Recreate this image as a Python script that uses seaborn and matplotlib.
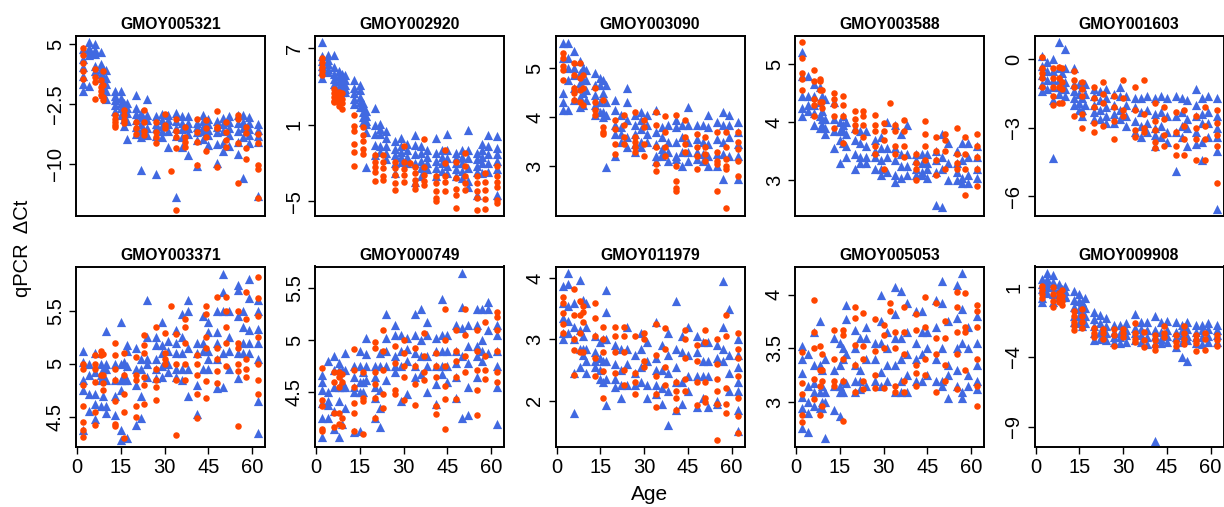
import seaborn as sns
import pandas as pd
import matplotlib
matplotlib.use("Agg")
import matplotlib.pyplot as plt

gene_names = ["GMOY005321", "GMOY002920", "GMOY003090", "GMOY003588", "GMOY001603",
              "GMOY003371", "GMOY000749", "GMOY011979", "GMOY005053", "GMOY009908"]

age_ticks = [0, 15, 30, 45, 60]
y_ticks = [[5, -2.5, -10], [7, 1, -5], [5, 4, 3], [5, 4, 3], [0, -3, -6],
           [5.5, 5, 4.5], [5.5, 5, 4.5], [4, 3, 2], [4, 3.5, 3], [1, -4, -9]]
y_tick_labels = [["5", "\u22122.5", "\u221210"], ["7", "1", "\u22125"], ["5", "4", "3"], ["5", "4", "3"],
                 ["0", "\u22123", "\u22126"], ["5.5", "5", "4.5"], ["5.5", "5", "4.5"], ["4", "3", "2"],
                 ["4", "3.5", "3"], ["1", "\u22124", "\u22129"]]

# ages of the sample groups
blue_ages = [2, 4, 6, 8, 9, 10, 13, 15, 16, 17, 20, 22, 24, 27, 29, 31, 34, 36, 38, 41,
             43, 45, 48, 50, 52, 55, 57, 59, 62]
orange_ages = [2, 6, 8, 9, 13, 16, 20, 23, 27, 30, 32, 34, 37, 41, 44, 48, 51, 55, 58, 62]

# values, one inner list per age
p1_blue = [[4.4, 3.2, 2.2, 1, 0, -0.9], [5.3, 4.5, 4, 3.6, -0.2], [5, 4.3, 3.8, 2.3, 1.6], [4, 2.5, 1.9, 1.3, 0.8],
           [1.9, 1.2, 0.5, -0.3, -1.2], [1.8, 0.8, 0, -0.8, -1.8], [-0.8, -1.5, -2, -2.6, -3.3], [-0.8, -1.7, -2.4, -3, -3.8],
           [-2.3, -3, -3.6, -4.4, -5.2], [-2.4, -3, -3.6, -4.6, -6.8], [-1.4, -3, -3.7, -4.5, -5.4, -6.2],
           [-3.6, -4.1, -5, -5.8, -6.6, -10.8], [-1.9, -3.8, -4.5, -5.5, -6.4], [-4, -5, -5.5, -6.5, -11.2],
           [-3.7, -4.5, -5.2, -5.9, -6.6], [-3.9, -4.5, -5, -5.8, -7.8], [-3.6, -4.6, -5.5, -6.5, -14.1],
           [-4, -4.8, -5.6, -6.6, -7.8], [-4, -4.8, -5.5, -6.2, -8.9], [-4.8, -5.4, -6, -7, -10.3],
           [-3.8, -4.6, -5.3, -5.8, -6.8], [-4.4, -5, -5.7, -6.4, -7.6], [-4.6, -5.3, -6, -7.5, -9.9],
           [-4.2, -5, -5.8, -7.4, -8.3], [-4, -4.7, -5.5, -6.3, -7.7], [-3.8, -4.8, -5.8, -7.2, -8.7],
           [-3.9, -4.7, -5.5, -6.6, -11.8], [-4.1, -4.8, -5.6, -6.3, -7.3], [-5, -5.7, -6.5, -7.2, -14]]
p1_orange = [[4.5, 3.6, 2.6, 1.6, 0.6], [1.9, 0.9, 0.3, -1.9], [-0.9, -1.4, 0.5, -0.4], [1.6, -0.1, -1.6, -2],
             [-3.9, -4.3, -4.7, -5.1, -5.3], [-3.2, -3.9, -4.5, -4.9], [-4.7, -5.5, -6.2], [-3.2, -4.7, -5.8, -6.4],
             [-4.7, -6, -6.6, -7.3], [-3.7, -5.1, -5.5], [-10.9], [-4.3, -5.8, -6.6, -8, -15.7], [-5.3, -6.6, -7.2, -7.8],
             [-4.4, -6, -7.2, -10.1], [-4.5, -5.5, -6.6, -8.3], [-3.4, -5.3, -5.5, -10.4], [-4.7, -6, -7, -7.8],
             [-3.9, -4.3, -7.4, -12.4], [-5.3, -6.1, -8, -9.3], [-6.2, -7.4, -10.1, -10.6, -14.2]]

p2_blue = [[7.5, 6.4, 6, 5.6, 5.2, 4.7], [6.5, 6.1, 5.8, 5.4, 5.1], [6.5, 5.5, 5, 4.6, 4.2], [5.2, 4.8, 4.4, 4, 3.7],
           [5, 4.6, 4.2, 3.9, 3.6], [4.9, 4.5, 4.1, 3.8, 3.6], [4.5, 3.9, 3.5, 3, 2.6], [4.1, 3.7, 3.2, 2.8, 2.4],
           [2.7, 2.4, 2, 1.6, 1.2], [2.1, 1.7, 1.3, 1.1, 0.4, -2.3], [2.3, 1, 0.3, -0.6, -1.4], [1.1, 0.7, 0.3, -0.7, -1.1],
           [0.5, 0, -0.7, -1.2, -1.7], [-0.3, -0.9, -1.4, -2, -2.8], [0, -0.7, -1.1, -1.5, -1.9], [-0.5, -1, -1.5, -2],
           [0.2, -0.6, -1.3, -2, -3.5], [-0.7, -1.2, -1.8, -2.4, -3], [-1, -1.5, -2, -2.5], [0, -1.2, -1.8, -2.4, -3],
           [-1, -1.5, -2, -2.6], [0.3, -1, -1.6, -2.2, -2.8], [-1.2, -1.6, -2, -2.5, -3], [-1, -1.5, -2, -2.6, -3.2],
           [0.6, -1, -1.6, -2.4, -3.4, -3.9], [-1.2, -1.7, -2.2, -2.7, -4.5], [-0.5, -1, -1.5, -2, -2.8],
           [0.2, -0.7, -1.3, -2, -2.7], [0.1, -0.8, -1.3, -1.8, -2.5, -4.5]]
p2_orange = [[6.2, 5.9, 5.5, 5.2, 4.9], [3.8, 3.5, 3.2, 2.9, 2.8], [3.6, 3.3, 3, 2.7, 2.5], [3.5, 3, 2.7, 2.2],
             [1.8, 0.9, 0.5, -0.5, -1.1, -2.2], [0.8, 0.2, -0.3, -0.9, -1.3], [-1.4, -1.9, -2.3, -2.7, -3.4],
             [-1.4, -1.9, -2.4, -3, -3.3], [-1.9, -2.4, -2.9, -3.6, -4.1], [-0.7, -1.9, -2.5, -2.9, -3.5], [-2],
             [-2.3, -2.8, -3.3, -3.7, -4], [-0.1, -2.3, -2.9, -3.4, -3.7], [-3, -3.6, -4.2, -4.7, -5],
             [-1, -2, -3, -3.5, -4.2], [-1.9, -3.2, -4, -4.5, -5.5], [-1.2, -2.2, -3, -3.6, -4.1],
             [-3, -3.6, -4.2, -4.7, -5.7], [-2.8, -3.5, -4.1, -4.8, -5.6], [-2.2, -3, -3.5, -3.9, -4.9, -5.1]]

p3_blue = [[5.5, 5.2, 4.5, 4.3, 4.15], [5.5, 5.2, 5, 4.75, 4.15], [5.35, 5, 4.85, 4.6, 4.35], [5.15, 4.9, 4.7, 4.4, 4.2],
           [5, 4.75, 4.5, 4.25], [4.95, 4.75, 4.55, 4.35], [4.9, 4.65, 4.45, 4.25, 4.05], [4.8, 4.65, 4.3, 4.1],
           [4.75, 4.5, 4.1, 4], [4.65, 4.3, 4.05, 2.98], [4.35, 4.15, 3.85, 3.65, 3.2], [4.05, 3.8, 3.65, 3.5],
           [4.6, 4.3, 3.95, 3.6, 3.4], [4.05, 3.85, 3.65, 3.45, 3.3], [4.1, 3.95, 3.75, 3.5, 3.4], [4.05, 3.85, 3.65, 3.5],
           [4.15, 3.7, 3.45, 3.2, 3.1], [3.8, 3.6, 3.35, 3.25, 3.2], [3.85, 3.5, 3.3, 3.1], [3.95, 3.8, 3.5, 3.2, 3.15],
           [3.85, 3.6, 3.3, 3], [4.2, 3.85, 3.5, 3.3, 3.1], [3.85, 3.55, 3.3, 3.15], [3.85, 3.5, 3.25, 3.1],
           [4.05, 3.8, 3.45, 3.2, 3], [3.9, 3.55, 3.25, 3], [4.1, 3.85, 3.5, 3.25, 2.75], [4.05, 3.85, 3.6, 3.2],
           [3.9, 3.7, 3.45, 3.2, 2.75]]
p3_orange = [[5.3, 5.2, 5.05, 4.95, 4.75], [5.1, 4.85, 4.6, 4.5, 4.35], [5.1, 4.8, 4.55, 4.3], [4.85, 4.6, 4.25],
             [4.6, 4.3, 4.15, 4.05], [4.35, 3.8, 3.7, 3.65], [3.95, 3.75, 3.45, 3.25], [4.05, 3.85, 3.6, 3.45],
             [4.1, 3.6, 3.5, 3.4, 3.3], [3.95, 3.8, 3.45, 3.2], [], [4.1, 3.85, 3.4, 3.05, 2.9], [4.03, 3.7, 3.4, 3.2],
             [4.05, 3, 2.7, 2.55, 2.5], [3.95, 3.6, 3.45, 3.3], [3.65, 3.4, 3.2, 2.95], [3.6, 3.4, 3.25, 3.1],
             [3.7, 3.3, 3.1, 3.05, 2.5], [3.7, 3.4, 3.15, 3, 2.95, 2.15], [3.7, 3.5, 3.35, 3.1, 2.8]]

p4_blue = [[5.2, 4.8, 4.45, 4.25, 4.1], [4.8, 4.45, 4.3, 4.2], [4.65, 4.45, 4.3, 4.15, 3.95], [4.6, 4.35, 4.1, 3.9],
           [4.45, 4.2, 4.05, 3.95], [4.4, 4.05, 3.9, 3.8], [4.35, 4.05, 3.85, 3.55], [4, 3.85, 3.7, 3.3],
           [4.1, 3.95, 3.85, 3.65], [4, 3.8, 3.6, 3.4], [3.9, 3.7, 3.45, 3.2], [3.85, 3.65, 3.4, 3.3], [3.85, 3.6, 3.4, 3.3],
           [3.7, 3.5, 3.4, 3.2], [3.75, 3.55, 3.35, 3.2, 3.1], [4, 3.55, 3.4, 3.15], [3.95, 3.55, 3.35, 3.1, 2.98],
           [3.8, 3.45, 3.25, 3.05], [3.95, 3.45, 3.25, 3.1], [3.45, 3.35, 3.2, 3.1], [3.45, 3.3, 3.15, 3.1],
           [3.45, 3.3, 3.2, 3.05], [3.5, 3.35, 3.15, 2.58], [3.8, 3.4, 3.2, 2.55], [3.65, 3.3, 3], [3.5, 3.3, 3.15, 3],
           [3.65, 3.35, 3.05, 2.95], [3.65, 3.4, 3.1, 2.95], [3.6, 3.4, 3.2, 3.05]]
p4_orange = [[5.37, 5.1, 4.85, 4.75, 4.55], [4.9, 4.7, 4.4, 4.3, 4.1], [4.75, 4.7, 4.55, 4.35], [4.55, 4.35, 4.25],
             [4.5, 4.4, 4.3, 4.1, 3.9], [4.45, 4.3, 4.1, 3.65], [4.2, 4.05, 3.95, 3.85], [4.2, 4.1, 3.95, 3.75],
             [4.13, 3.95, 3.85, 3.6, 3.45], [3.98, 3.85, 3.7, 3.2], [4.33], [3.95, 3.85, 3.6, 3.45], [4.03, 3.85, 3.6, 3.4],
             [3.45, 3.3, 3.2, 3], [4.02, 3.8, 3.6, 3.35], [3.75, 3.5, 3.35, 3.1], [3.8, 3.7, 3.5, 3.2], [3.9, 3.45, 3.3, 3.2],
             [3.75, 3.45, 3.2, 2.75], [3.8, 3.6, 3.4, 3.2, 2.9]]

p5_blue = [[0.15, -0.3, -0.7, -1.1, -1.4], [-0.1, -0.5, -0.9, -1.3], [0, -0.5, -0.9, -1.2, -1.8, -4.3],
           [0.75, -0.4, -0.9, -1.2, -1.5], [-0.6, -1, -1.3], [0.45, -0.4, -1, -1.3, -1.6], [-0.4, -1.1, -1.4, -1.7, -2],
           [-1.1, -1.5, -1.9, -2.2], [-1.2, -1.7, -2.2, -2.5], [-1.1, -1.5, -2], [-1.3, -1.6, -2, -2.3, -2.6],
           [-1.4, -1.8, -2.2, -2.6], [-1.3, -1.7, -2.1, -2.5, -2.8], [-1.5, -2, -2.4, -2.8], [-1.2, -1.6, -2.2, -2.6],
           [-1.6, -2, -2.5, -2.9], [-1.7, -2.1, -2.7, -3.2], [-1.7, -2.3, -2.9, -3.4], [-1.6, -2.2, -2.8, -3.2],
           [-1.7, -2.4, -3, -3.3, -3.8], [-1.6, -2.3, -2.9, -3.4], [-1.7, -2.5, -3.2, -3.6], [-1.6, -2.5, -3.2, -4.9],
           [-1.7, -2.3, -2.9, -3.4], [-1.8, -2.6, -3, -3.8], [-1.3, -2, -2.5, -3.2, -3.7], [-1.7, -2.4, -2.8, -3.6, -4.4],
           [-1.6, -2.3, -2.8, -3.4], [-1.7, -2.5, -3, -3.4, -4, -6.55]]
p5_orange = [[0.1, -0.4, -0.6, -0.8, -1.2], [-0.4, -0.8, -1.2, -1.6, -2], [-0.35, -0.8, -1.2, -1.9], [-0.4, -1, -1.3, -1.9],
             [-0.5, -0.9, -1.2, -2.5], [-1, -1.3, -1.6, -2.4, -3], [-1.2, -1.7, -2.1, -2.8, -3.2], [-1, -1.5, -1.9, -2.9],
             [-1.6, -2.1, -2.7, -3.5], [-0.9, -1.7, -2.2, -2.5], [], [-1.2, -2.2, -3.1, -3.4], [-0.9, -2.4, -3, -3.2],
             [-1.9, -2.7, -3.1, -3.6, -3.9], [-2.1, -2.6, -3.3, -3.8], [-2.3, -3.2, -3.8, -4.2], [-2.2, -2.9, -3.5, -4.2],
             [-2.5, -3, -3.5, -4.4], [-2.1, -2.9, -3.5, -4.4], [-2.2, -2.8, -3.3, -3.8, -5.4]]

p6_blue = [[5.12, 5.02, 4.85, 4.75, 4.38], [5, 4.9, 4.72, 4.56], [5.1, 4.92, 4.72, 4.62, 4.48], [5, 4.9, 4.85, 4.6],
           [4.95, 4.88, 4.7], [5.31, 5, 4.95, 4.85, 4.6, 4.54], [5, 4.85, 4.7, 4.52], [5.4, 5, 4.85, 4.75, 4.38, 4.28],
           [5.02, 4.9, 4.85], [5.18, 5.12, 4.98, 4.85, 4.3], [5.15, 4.95, 4.8, 4.42], [5.05, 4.95, 4.7, 4.49],
           [5.6, 5.25, 5.05, 5, 4.88], [5.25, 5.18, 5.05, 4.95, 4.87], [5.4, 5.18, 5.1, 4.98, 4.88], [5.22, 5.12, 5, 4.92],
           [5.32, 5.2, 5.1, 4.95, 4.88], [5.47, 5.25, 5.1, 4.95, 4.85], [5.6, 5.5, 5.15, 4.95, 4.7], [5.2, 5.1, 4.8, 4.53],
           [5.45, 5.2, 5.12, 4.95], [5.4, 5.3, 5.12, 5.05, 4.95], [5.5, 5.3, 5.2, 5.05, 4.77], [5.85, 5.68, 5.5, 5.1, 4.78],
           [5.5, 5.25, 5.12, 4.95], [5.75, 5.7, 5.45, 5.1, 4.87], [5.5, 5.35, 5.2, 5.1], [5.8, 5.62, 5.32, 5.2, 5.1],
           [5.6, 5.5, 5.33, 5.2, 5.05, 4.65, 4.35]]
p6_orange = [[5, 4.95, 4.8, 4.6, 4.45, 4.38, 4.31], [5.08, 5, 4.95, 4.83, 4.55, 4.42], [5.12, 5.08, 4.9], [5.09, 4.9, 4.82, 4.75],
             [5.2, 5.08, 4.95, 4.85, 4.65, 4.43, 4.41], [5.1, 4.9, 4.72, 4.55, 4.3], [5.07, 4.9, 4.85, 4.6, 4.5],
             [5.27, 5.18, 5.1, 4.88, 4.8, 4.62], [5.35, 4.95, 4.85, 4.78, 4.66], [5.29, 5.1, 5.05, 5], [5.55],
             [5.28, 5, 4.85, 4.33], [5.42, 5.35, 5.2, 5, 4.85], [5.08, 5, 4.9, 4.72, 4.49], [5.55, 5.47, 5.25, 5.15, 4.84, 4.68],
             [5.63, 5.15, 5.05, 4.93, 4.82], [5.63, 5.5, 5.35, 5.2, 4.98], [5.5, 5.2, 5.15, 5, 4.93, 4.41],
             [5.68, 5.42, 5.05, 4.95, 4.88], [5.82, 5.62, 5.45, 5.25, 5, 4.85, 4.72]]

p7_blue = [[4.67, 4.6, 4.52, 4.4, 4.25, 4.07], [4.8, 4.5, 4.42, 4.38, 4.25], [4.85, 4.72, 4.55, 4.32, 4.15],
           [4.78, 4.72, 4.55, 4.42, 4.07], [4.72, 4.6, 4.55, 4.2], [4.88, 4.72, 4.55, 4.35], [4.75, 4.65, 4.55, 4.5, 4.12],
           [4.9, 4.75, 4.6, 4.5, 4.13], [4.7, 4.6, 4.5], [5.02, 4.87, 4.75, 4.62], [4.75, 4.65, 4.55, 4.45, 4.25],
           [4.88, 4.75, 4.52, 4.35, 4.17], [5.25, 5.02, 4.9, 4.75, 4.62], [5.15, 5.05, 4.85, 4.75, 4.7], [5.05, 4.9, 4.75, 4.42],
           [5.02, 4.92, 4.8, 4.48], [5.25, 5.05, 4.88, 4.75, 4.65], [5.3, 5, 4.85, 4.68], [5.18, 5.05, 4.85, 4.75, 4.5],
           [5.02, 4.9, 4.75, 4.58, 4.39], [5.4, 5.05, 4.9, 4.75, 4.68], [5.05, 4.9, 4.75, 4.6], [5.15, 4.9, 4.78, 4.65, 4.45],
           [5.65, 5.32, 5.12, 4.85, 4.25], [5.15, 4.95, 4.78, 4.55, 4.28], [5.3, 5.15, 4.95, 4.85, 4.65], [5.3, 5, 4.9, 4.8],
           [5.37, 5.3, 5.1, 4.88], [5.15, 5.05, 4.9, 4.75, 4.55, 4.2]]
p7_orange = [[4.73, 4.43, 4.37, 4.15, 4.13], [4.7, 4.6, 4.3, 4.17], [4.7, 4.65, 4.55, 4.3, 4.2], [4.68, 4.6, 4.25, 4.18],
             [4.92, 4.72, 4.55, 4.4, 4.3, 4.13], [4.7, 4.45, 4.42, 4.1], [4.98, 4.93, 4.7, 4.58, 4.45, 4.25],
             [5.1, 4.9, 4.72, 4.48, 4.35], [4.95, 4.78, 4.52, 4.48], [5, 4.88, 4.75, 4.65, 4.43], [], [4.93, 4.75, 4.58, 4.38],
             [5.07, 4.85, 4.7, 4.62], [4.88, 4.75, 4.65, 4.37, 4.29], [5.3, 5, 4.75, 4.56, 4.44, 4.15], [5.1, 4.9, 4.8, 4.65, 4.44],
             [5.3, 5.05, 4.85, 4.7], [5.1, 4.9, 4.72, 4.52, 4.28], [5.18, 4.85, 4.72, 4.63], [5.27, 5.22, 5.1, 4.9, 4.7, 4.6]]

p8_blue = [[3.87, 3.6, 3.35, 3.1, 3], [4.08, 3.9, 3.55, 3.3, 3.1], [3.6, 3.2, 3, 2.45, 1.8], [3.97, 3.15, 2.85, 2.55],
           [3.65, 3.05, 2.85, 2.75], [3.6, 3.2, 2.85, 2.65, 2.45], [3.05, 2.8, 2.65, 2.55], [2.95, 2.7, 2.5, 2.35],
           [3, 2.65, 2.3], [3.8, 3.45, 3, 2.65, 2.35, 1.92], [2.9, 2.6, 2.35, 2.22], [2.85, 2.5, 2.25, 2.05], [3.2, 2.85, 2.6, 2.25],
           [2.75, 2.45, 2.25], [3.1, 2.85, 2.55, 2.3], [2.95, 2.65, 2.25, 2.05], [3.28, 2.7, 2.5, 2.25, 2.1], [2.9, 2.5, 2.2, 1.95],
           [3.1, 2.75, 2.45, 2.15, 1.6], [3.63, 2.85, 2.55, 2.3, 1.85], [3.05, 2.8, 2.3, 1.95], [3.2, 2.75, 2.4, 2.15],
           [3.05, 2.8, 2.4, 1.9], [2.95, 2.65, 2.4, 2.05], [2.95, 2.65, 2.4, 1.9], [2.9, 2.7, 2, 1.95], [3.95, 3.2, 2.85, 2.65],
           [3.5, 2.75, 2.45, 2.15], [3, 2.75, 2.55, 2.3, 2.15, 1.85, 1.5]]
p8_orange = [[3.7, 3.6, 3.43, 3.25, 3.1], [3.83, 3.4, 3, 2.83, 2.42], [3.63, 3.4, 3.1, 2.8], [3.55, 3.45, 3.28, 2.8],
             [3.6, 3.35, 3.05, 2.7, 2.4], [3.2, 3, 2.8, 2.48, 2.05], [3.2, 3.05, 2.8, 2.45], [3.2, 3.05, 2.8, 2.5, 2.25],
             [3.05, 2.45, 2.3, 2.1], [3.1, 3, 2.65, 2.55], [], [3.25, 2.75, 2.4, 2.1, 1.9], [3.18, 2.85, 2.55, 2.25],
             [2.3, 2.15, 2.05, 1.85], [3.15, 3, 2.7, 2.35, 2.15], [2.9, 2.65, 2.3, 1.92], [3.15, 2.95, 2.3, 2.05, 1.97],
             [3, 2.6, 2.35, 2.15, 1.95, 1.35], [3.4, 3.05, 2.2, 1.95, 1.8], [3.1, 2.85, 2.7, 2.4, 2.05, 1.75, 1.47]]

p9_blue = [[3.52, 3.4, 3.27, 3.05, 2.95, 2.76], [3.45, 3.15, 3, 2.9, 2.72], [3.65, 3.35, 3.18, 3.1, 2.97], [3.75, 3.35, 3.1, 2.95],
           [3.3, 3.15, 3, 2.95], [3.4, 3.1, 3, 2.67], [3.6, 3.3, 3.15, 2.93], [3.55, 3.35, 3.15, 3.1, 2.87], [3.5, 3.4, 3.2, 3.1],
           [3.9, 3.77, 3.45, 3.18], [3.67, 3.5, 3.35, 3.2, 3.1], [3.6, 3.3, 3.2, 3.12], [3.7, 3.6, 3.4, 3.15], [3.55, 3.4, 3.2],
           [4, 3.75, 3.55, 3.28, 3.15], [3.65, 3.5, 3.35, 3.2], [4.07, 3.82, 3.6, 3.35, 3.1], [4.03, 3.6, 3.4, 3.2, 3.1],
           [3.92, 3.65, 3.45, 3.25, 3.1], [3.85, 3.55, 3.4, 3.2], [3.85, 3.65, 3.45, 3.2], [3.65, 3.5, 3.25], [3.95, 3.7, 3.4, 3.2],
           [4.13, 3.92, 3.5, 3.2, 3.15], [3.75, 3.25, 3.35, 3.04], [4.09, 3.78, 3.5, 3.3, 3.15], [4.2, 3.87, 3.55, 3.1, 3.04],
           [3.7, 3.5, 3.25, 3.15], [3.8, 3.55, 3.35, 3.2, 3.12]]
p9_orange = [[3.47, 3.18, 3.08, 2.88, 2.82], [3.95, 3.65, 3.5, 3.22, 3.03], [3.52, 3.3, 3.15, 2.88], [3.45, 3.3, 3.2, 2.97],
             [3.67, 3.4, 3.2, 3.15], [3.67, 3.62, 3.4, 3.2, 2.83], [3.88, 3.78, 3.53, 3.35, 3.1], [3.83, 3.52, 3.4, 3.2, 3.12],
             [3.77, 3.48, 3.25, 3.13], [3.72, 3.62, 3.5, 3.13], [3.92, 3.85], [3.65, 3.5, 3.15, 3.1], [3.88, 3.65, 3.45, 3.2, 3.1],
             [3.82, 3.67, 3.35, 3.27, 3.15], [3.98, 3.7, 3.4, 3.25], [3.92, 3.6, 3.45, 3.1], [3.75, 3.6, 3.35, 3.2],
             [4.02, 3.88, 3.65, 3.45, 3.12], [4.01, 3.7, 3.65, 3.3], [3.9, 3.85, 3.7, 3.4, 3.15, 2.97]]

p10_blue = [[1.6, 1.2, 0.9, 0.2, -0.1], [2, 1.6, 1.3, 1, 0.6], [1.9, 1.4, 1, 0.5, -0.1], [1.2, 0.9, 0.6, 0.3], [0.9, 0.6, 0.3],
            [1.1, 0.7, 0.4, 0.3], [0.7, 0.1, -0.4, -1.1, -1.5], [0.5, 0, -0.6, -1.1, -1.6], [-0.1, -0.7, -1.2, -1.8],
            [0.2, -0.5, -1.1, -1.6], [-0.8, -1.3, -1.8, -2.3, -2.8], [-1, -1.6, -2.2, -2.7], [-1.2, -1.8, -2.3, -2.8],
            [-1.7, -2.2, -2.6, -2.9], [-1.7, -2.3, -2.6, -3], [-1.6, -2.1, -2.4, -2.9], [-0.9, -1.9, -2.3, -2.8],
            [-1.5, -2, -2.4, -2.9], [-1.5, -2.1, -2.6, -3.1], [-1.1, -2.1, -2.5, -3, -10], [-1.5, -2.2, -2.7, -3],
            [-1.4, -2.1, -2.5, -2.9], [-1.5, -2.2, -2.6, -3.3], [-1.7, -2.1, -2.4, -2.9, -4], [-1.5, -2, -2.5, -2.8, -4.3],
            [-1.7, -2.2, -2.6, -3], [-1.7, -2.1, -2.6, -3.1], [-1.6, -2, -2.5, -2.9], [-1.7, -2.1, -2.4, -2.9]]
p10_orange = [[1.1, 0.8, 0.5, 0.2], [1, 0.5, 0, -0.4], [0.6, 0.2, -0.1], [0.8, 0.4, 0, -0.3], [-0.7, -1.1, -1.5, -1.8, -2.1],
              [-0.6, -1.1, -1.5, -1.9], [-1.9, -2.3, -2.6], [-2, -2.3, -2.7], [-2, -2.4, -3.2], [-2, -2.3, -2.6], [],
              [-1.6, -2.3, -2.7, -2.9], [-2.2, -2.8, -3.3], [-2.4, -2.8, -3.2, -3.5], [-1.8, -2.3, -2.6], [-2.4, -2.9, -3.2],
              [-1.8, -2.3, -2.7, -3.1], [-2.4, -2.8, -3, -3.6], [-2.3, -2.7, -3.5], [-2.4, -2.8, -3.2]]

blue_series = [p1_blue, p2_blue, p3_blue, p4_blue, p5_blue, p6_blue, p7_blue, p8_blue, p9_blue, p10_blue]
orange_series = [p1_orange, p2_orange, p3_orange, p4_orange, p5_orange, p6_orange, p7_orange, p8_orange, p9_orange, p10_orange]

sns.set_style("white")
plt.rcParams["font.family"] = ["Liberation Sans", "DejaVu Sans"]
plt.rcParams["text.color"] = "black"
plt.rcParams["xtick.color"] = "black"
plt.rcParams["ytick.color"] = "black"

W, H = 1224, 507
col_left = [76, 315, 555.5, 795, 1034.5]
panel_w = 189
row_top = [36, 266.5]
panel_h = 180
y_limits = [(-16.5, 6.04), (-6.15, 7.96), (1.99, 5.65), (2.39, 5.48), (-6.86, 1.02),
            (4.22, 5.92), (3.98, 5.71), (1.25, 4.19), (2.59, 4.26), (-10.43, 2.48)]


def long_table(ages, rows):
    recs = [(a, v) for a, vals in zip(ages, rows) for v in vals]
    return pd.DataFrame(recs, columns=["age", "value"])


fig = plt.figure(figsize=(W / 100, H / 100), dpi=100)

for i, name in enumerate(gene_names):
    row, col = divmod(i, 5)
    ax = fig.add_axes([col_left[col] / W, 1 - (row_top[row] + panel_h) / H, panel_w / W, panel_h / H])
    sns.scatterplot(data=long_table(blue_ages, blue_series[i]), x="age", y="value", ax=ax,
                    color="#4169E1", marker="^", s=44, linewidth=0)
    sns.scatterplot(data=long_table(orange_ages, orange_series[i]), x="age", y="value", ax=ax,
                    color="#FF4500", marker="o", s=22, linewidth=0)
    ax.set_xlim(-0.4, 64.4)
    ax.set_ylim(*y_limits[i])
    ax.set_xlabel("")
    ax.set_ylabel("")
    ax.set_title(name, fontsize=11.3, fontweight="bold", pad=5, color="black")
    for s in ax.spines.values():
        s.set_linewidth(1.4)
        s.set_color("black")
    ax.set_yticks(y_ticks[i])
    ax.set_yticklabels(y_tick_labels[i], rotation=90, va="center", fontsize=14.5)
    ax.tick_params(axis="y", left=True, length=5, width=1, pad=3)
    if row == 1:
        ax.set_xticks(age_ticks)
        ax.tick_params(axis="x", bottom=True, length=5, width=1, pad=3, labelsize=14.5)
    else:
        ax.set_xticks([])

fig.text(23 / W, 1 - 248 / H, "qPCR  \u0394Ct", rotation=90, ha="center", va="center", fontsize=14.5)
fig.text(650 / W, 1 - 495 / H, "Age", ha="center", va="center", fontsize=15)

plt.savefig("out.png", dpi=100)
plt.close()
